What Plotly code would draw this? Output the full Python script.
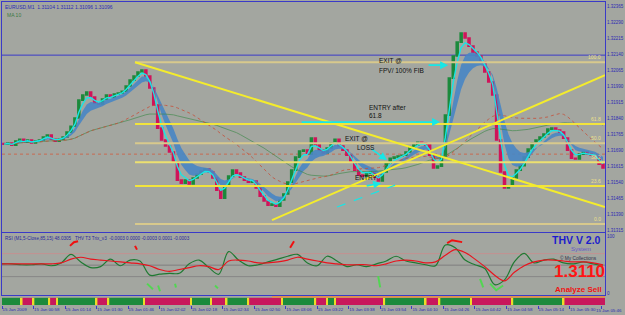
import pandas as pd
import plotly.graph_objects as go

# ---------------- data ----------------
T0 = pd.Timestamp("2009-01-15 00:42")
BAR_MIN = 2
AXIS_END_MIN = 306

close = [
    1.31718, 1.31723, 1.31713, 1.31732, 1.31741, 1.31727, 1.31737, 1.31723, 1.31732, 1.31737,
    1.31751, 1.31760, 1.31741, 1.31732, 1.31741, 1.31751, 1.31774, 1.31802, 1.31840, 1.31924,
    1.31948, 1.31962, 1.31938, 1.31910, 1.31906, 1.31929, 1.31948, 1.31938, 1.31952, 1.31957,
    1.31966, 1.31990, 1.32018, 1.32037, 1.32056, 1.32065, 1.32037, 1.31981, 1.31901, 1.31793,
    1.31737, 1.31709, 1.31681, 1.31634, 1.31549, 1.31535, 1.31549, 1.31531, 1.31559, 1.31577,
    1.31591, 1.31601, 1.31587, 1.31559, 1.31502, 1.31465, 1.31521, 1.31568, 1.31596, 1.31582,
    1.31563, 1.31549, 1.31540, 1.31545, 1.31512, 1.31474, 1.31451, 1.31432, 1.31437, 1.31427,
    1.31456, 1.31484, 1.31540, 1.31596, 1.31657, 1.31685, 1.31690, 1.31671, 1.31746, 1.31713,
    1.31690, 1.31676, 1.31699, 1.31723, 1.31741, 1.31709, 1.31690, 1.31666, 1.31634, 1.31596,
    1.31573, 1.31568, 1.31582, 1.31587, 1.31563, 1.31545, 1.31587, 1.31629, 1.31652, 1.31657,
    1.31662, 1.31666, 1.31681, 1.31704, 1.31713, 1.31727, 1.31723, 1.31713, 1.31666, 1.31606,
    1.31615, 1.31662, 1.31854, 1.32027, 1.32131, 1.32196, 1.32238, 1.32215, 1.32177, 1.32149,
    1.32131, 1.32102, 1.32056, 1.32009, 1.31948, 1.31737, 1.31587, 1.31512, 1.31521, 1.31559,
    1.31596, 1.31617, 1.31657, 1.31695, 1.31723, 1.31737, 1.31751, 1.31765, 1.31788, 1.31793,
    1.31784, 1.31774, 1.31746, 1.31690, 1.31652, 1.31648, 1.31671, 1.31681, 1.31671, 1.31666,
    1.31662, 1.31624, 1.31606,
]
open_first = 1.31720

price_ticks = [1.32365, 1.32290, 1.32215, 1.32140, 1.32065, 1.31990, 1.31915, 1.31840,
               1.31765, 1.31690, 1.31615, 1.31540, 1.31465, 1.31390, 1.31315]
price_range = [1.31306, 1.32384]

fib_levels = [0.0, 23.6, 38.2, 50.0, 61.8, 100.0]
fib_labels = ["0.0", "23.6", "38.2", "50.0", "61.8", "100.0"]
fib_colors = ["#d8c98c", "#f2e43c", "#ece070", "#d8c98c", "#f2e43c", "#d8c98c"]
fib_low, fib_high = 1.31343, 1.32102
fib_start_min = 67.5

# trend lines: (start min, start price, end min, end price)
trend_lines = [(67.5, 1.32102, 306, 1.31423), (137.0, 1.31362, 306, 1.32041)]

# RSI panel, one reading every 5 minutes
rsi_minutes = list(range(0, 306, 5))
rsi_green = [52.3, 52.3, 50.7, 50.7, 52.3, 49.0, 53.9, 68.7, 55.6, 45.7,
             47.4, 60.5, 49.0, 58.9, 57.2, 32.6, 34.2, 35.8, 35.8, 52.3,
             58.9, 45.7, 34.2, 73.7, 58.9, 49.0, 50.7, 55.6, 60.5, 65.5,
             68.7, 53.9, 49.0, 65.5, 57.2, 47.4, 50.7, 47.4, 52.3, 57.2,
             65.5, 57.2, 53.9, 50.7, 49.0, 85.2, 80.3, 58.9, 50.7, 44.1,
             16.1, 24.3, 55.6, 70.4, 53.9, 58.9, 60.5, 53.9, 52.3, 55.6,
             52.3, 49.0]
rsi_red = [52.3, 52.3, 52.3, 52.3, 52.3, 52.3, 53.9, 60.5, 63.8, 60.5,
           58.9, 57.2, 55.6, 53.9, 52.3, 49.0, 42.4, 39.1, 42.4, 45.7,
           49.0, 47.4, 42.4, 57.2, 58.9, 57.2, 53.9, 53.9, 55.6, 58.9,
           63.8, 60.5, 57.2, 53.9, 52.3, 50.7, 50.7, 50.7, 49.0, 52.3,
           57.2, 58.9, 57.2, 53.9, 55.6, 67.1, 77.0, 72.0, 60.5, 47.4,
           32.6, 22.7, 37.5, 49.0, 55.6, 58.9, 58.9, 57.2, 55.6, 55.6,
           53.9, 50.7]
rsi_levels = [70, 50, 30]
rsi_level_colors = ["#c49090", "#7e7e7e", "#868686"]

# THV signal strokes (minutes, value); None separates strokes
sig_red_min = [34.5, 36.5, 38.6, None, 67.5, 68.5, None, 146.2, 148.2, None, 225.9, 228.4, 233.5]
sig_red_val = [83.6, 90.0, 91.8, None, 83.6, 77.0, None, 80.3, 91.8, None, 88.5, 93.4, 90.1]
sig_grn_min = [73.6, 76.6, None, 79.2, 80.2, None, 87.8, 88.3, None, 108.1, 109.6, None,
               190.9, 191.9, None, 242.6, 244.2, None, 247.7, 250.8, 254.3]
sig_grn_val = [17.8, 7.9, None, 14.5, 4.6, None, 17.8, 11.2, None, 14.5, 9.5, None,
               30.9, 11.2, None, 26.0, 11.2, None, 17.8, 6.2, 14.5]

# trend-state strip
strip_bounds = [0, 10, 16, 24, 28, 48, 54, 72, 96, 106, 114, 125, 142, 159, 165, 169,
                194, 215, 222, 238, 259, 285, 306]
strip_state = ["G", "R"] * 11
orange_span = (137, 306)

tick_minutes = list(range(0, 305, 16))
tick_text = ["15 Jan 2009", "15 Jan 00:58", "15 Jan 01:14", "15 Jan 01:30", "15 Jan 01:46",
             "15 Jan 02:02", "15 Jan 02:18", "15 Jan 02:34", "15 Jan 02:50", "15 Jan 03:06",
             "15 Jan 03:22", "15 Jan 03:38", "15 Jan 03:54", "15 Jan 04:10", "15 Jan 04:26",
             "15 Jan 04:42", "15 Jan 04:58", "15 Jan 05:14", "15 Jan 05:30", "15 Jan 05:46"]

# ---------------- styling ----------------
BG = "#a3a6a0"
BLUE = "#3a3ac8"
AXTXT = "#2c2cb4"
FONT = "Liberation Sans"
GREEN_C = "#1c8a3c"
RED_C = "#d0145a"


def tm(m):
    return T0 + pd.Timedelta(minutes=m)


n = len(close)
times = [tm(1 + BAR_MIN * i) for i in range(n)]
opens = [open_first] + close[:-1]
wick = 0.00003
highs = [max(o, c) + wick for o, c in zip(opens, close)]
lows = [min(o, c) - wick for o, c in zip(opens, close)]

s = pd.Series(close)
ema_cyan = s.ewm(span=3, adjust=False).mean()
band_fast = s.ewm(span=5, adjust=False).mean()
band_slow = s.ewm(span=9, adjust=False).mean()
sma_green = s.rolling(40, min_periods=1).mean()
sma_red = s.rolling(30, min_periods=1).mean()

fig = go.Figure()

# blue ribbon
fig.add_trace(go.Scatter(x=times, y=band_fast, mode="lines", line=dict(width=0, color="#4a88c4"),
                         showlegend=False, hoverinfo="skip"))
fig.add_trace(go.Scatter(x=times, y=band_slow, mode="lines", line=dict(width=0, color="#4a88c4"),
                         fill="tonexty", fillcolor="rgba(72,134,196,0.9)", showlegend=False,
                         hoverinfo="skip"))
fig.add_trace(go.Scatter(x=times, y=sma_green, mode="lines", line=dict(width=0.8, color="#3f8a4a"),
                         opacity=0.8, showlegend=False, hoverinfo="skip"))
fig.add_trace(go.Scatter(x=times, y=sma_red, mode="lines",
                         line=dict(width=1, color="#c8503a", dash="dot"),
                         opacity=0.8, showlegend=False, hoverinfo="skip"))
fig.add_trace(go.Candlestick(x=times, open=opens, high=highs, low=lows, close=close,
                             increasing=dict(line=dict(color=GREEN_C, width=1.6), fillcolor=GREEN_C),
                             decreasing=dict(line=dict(color=RED_C, width=1.6), fillcolor=RED_C),
                             whiskerwidth=0, showlegend=False))
fig.add_trace(go.Scatter(x=times, y=ema_cyan, mode="lines", line=dict(width=1.4, color="#18e6e6"),
                         showlegend=False, hoverinfo="skip"))

# RSI panel
rsi_t = [tm(m) for m in rsi_minutes]
fig.add_trace(go.Scatter(x=rsi_t, y=rsi_green, mode="lines", xaxis="x2", yaxis="y2",
                         line=dict(width=1.2, color="#1f7a32", shape="spline"), showlegend=False))
fig.add_trace(go.Scatter(x=rsi_t, y=rsi_red, mode="lines", xaxis="x2", yaxis="y2",
                         line=dict(width=1.2, color="#e8141e", shape="spline"), showlegend=False))
fig.add_trace(go.Scatter(x=[tm(m) if m is not None else None for m in sig_red_min], y=sig_red_val,
                         mode="lines", xaxis="x2", yaxis="y2", connectgaps=False,
                         line=dict(width=2, color="#f01010"), showlegend=False))
fig.add_trace(go.Scatter(x=[tm(m) if m is not None else None for m in sig_grn_min], y=sig_grn_val,
                         mode="lines", xaxis="x2", yaxis="y2", connectgaps=False,
                         line=dict(width=2, color="#52d652"), showlegend=False))

# strip
seg_x, seg_w, seg_c = [], [], []
for a, b, st in zip(strip_bounds[:-1], strip_bounds[1:], strip_state):
    seg_x.append(tm((a + b) / 2))
    seg_w.append((b - a) * 60000)
    seg_c.append(GREEN_C if st == "G" else "#c8185c")
fig.add_trace(go.Bar(x=seg_x, y=[1] * len(seg_x), base=0, width=seg_w, marker=dict(color=seg_c, line=dict(width=0)),
                     xaxis="x3", yaxis="y3", showlegend=False))
sep = strip_bounds[1:-1]
fig.add_trace(go.Bar(x=[tm(m) for m in sep], y=[1] * len(sep), base=0, width=[50000] * len(sep),
                     marker=dict(color="#ecdc28", line=dict(width=0)), xaxis="x3", yaxis="y3",
                     showlegend=False))
fig.add_trace(go.Bar(x=[tm((orange_span[0] + orange_span[1]) / 2)], y=[0.3], base=1,
                     width=[(orange_span[1] - orange_span[0]) * 60000],
                     marker=dict(color="#e0904a", line=dict(width=0)), xaxis="x3", yaxis="y3",
                     showlegend=False))

shapes = []
# horizontal helper lines in main panel
shapes.append(dict(type="line", xref="x domain", x0=0, x1=1, yref="y", y0=1.32135, y1=1.32135,
                   line=dict(color=BLUE, width=1), layer="below"))
shapes.append(dict(type="line", xref="x domain", x0=0, x1=1, yref="y", y0=1.31671, y1=1.31671,
                   line=dict(color="#c86a50", width=1, dash="dot"), layer="below"))
# fib levels
annotations = []
for lv, lab, col in zip(fib_levels, fib_labels, fib_colors):
    p = fib_low + lv / 100 * (fib_high - fib_low)
    shapes.append(dict(type="line", xref="x", yref="y", x0=tm(fib_start_min), x1=tm(AXIS_END_MIN),
                       y0=p, y1=p, line=dict(color=col, width=2)))
    annotations.append(dict(x=tm(AXIS_END_MIN - 0.8), y=p, xref="x", yref="y", text=lab, showarrow=False,
                            xanchor="right", yanchor="bottom", yshift=0,
                            font=dict(size=5, color="#eee08a", family=FONT)))
for (m0, p0, m1, p1) in trend_lines:
    shapes.append(dict(type="line", xref="x", yref="y", x0=tm(m0), y0=p0, x1=tm(m1), y1=p1,
                       line=dict(color="#f4ec2c", width=2)))
# dashed cyan guide
shapes.append(dict(type="line", xref="x", yref="y", x0=tm(170), y0=1.31423, x1=tm(199.5), y1=1.31526,
                   line=dict(color="#18e6e6", width=1.2, dash="dash")))
# RSI levels
for lv, col in zip(rsi_levels, rsi_level_colors):
    shapes.append(dict(type="line", xref="x2 domain", x0=0, x1=1, yref="y2", y0=lv, y1=lv,
                       line=dict(color=col, width=1), layer="below"))

# cyan arrows
arrows = [((215.7, 1.32088), (226.4, 1.32088)),
          ((151.3, 1.31821), (222.3, 1.31821)),
          ((186.8, 1.31699), (195.4, 1.31643)),
          ((184.3, 1.31521), (192.4, 1.31535))]
for (tm0, tp0), (hm, hp) in arrows:
    annotations.append(dict(x=tm(hm), y=hp, ax=tm(tm0), ay=tp0, xref="x", yref="y", axref="x", ayref="y",
                            text="", showarrow=True, arrowhead=2, arrowsize=1, arrowwidth=1.6,
                            arrowcolor="#18e6e6"))

notes = [("EXIT @", 190.4, 1.32112), ("FPV/ 100% FIB", 190.4, 1.32065),
         ("ENTRY after", 185.3, 1.31891), ("61.8", 185.3, 1.31852),
         ("EXIT @", 173.1, 1.31746), ("LOSS", 179.2, 1.31704), ("ENTRY", 178.2, 1.31563)]
for txt, m, p in notes:
    annotations.append(dict(x=tm(m), y=p, xref="x", yref="y", text=txt, showarrow=False,
                            xanchor="left", yanchor="middle", font=dict(size=6.5, color="#101010", family=FONT)))


def px(xp):
    return (xp - 2) / 603


def py(yp):
    return (305 - yp) / 303


annotations += [
    dict(x=px(3), y=py(2), xref="paper", yref="paper", text="EURUSD,M1  1.31104 1.31112 1.31096 1.31096",
         showarrow=False, xanchor="left", yanchor="top", font=dict(size=5, color=AXTXT, family=FONT)),
    dict(x=px(5), y=py(10), xref="paper", yref="paper", text="MA 10", showarrow=False,
         xanchor="left", yanchor="top", font=dict(size=5, color="#3c7a44", family=FONT)),
    dict(x=px(3), y=py(234), xref="paper", yref="paper",
         text="RSI (M1,5-Close,85,15) 48.0305   THV T3 Trix_v3  -0.0003 0.0000 -0.0003 0.0001 -0.0003",
         showarrow=False, xanchor="left", yanchor="top", font=dict(size=4.6, color="#2a2a9a", family=FONT)),
    dict(x=px(603), y=py(239.5), xref="paper", yref="paper", text="<b>THV V 2.0</b>", showarrow=False,
         xanchor="right", yanchor="middle", font=dict(size=10.5, color="#1c1ccc", family=FONT)),
    dict(x=px(581), y=py(249), xref="paper", yref="paper", text="System", showarrow=False,
         xanchor="center", yanchor="middle", font=dict(size=6, color="#6858c8", family=FONT)),
    dict(x=px(578), y=py(257.5), xref="paper", yref="paper", text="© My Collections", showarrow=False,
         xanchor="center", yanchor="middle", font=dict(size=4.8, color="#303048", family=FONT)),
    dict(x=px(607), y=py(271), xref="paper", yref="paper", text="<b>1.3110</b>", showarrow=False,
         xanchor="right", yanchor="middle", font=dict(size=17, color="#ff1414", family=FONT)),
    dict(x=px(604), y=py(289), xref="paper", yref="paper", text="<b>Analyze Sell</b>", showarrow=False,
         xanchor="right", yanchor="middle", font=dict(size=8, color="#f01414", family=FONT)),
    # last time label, kept inside the window
    dict(x=px(624), y=py(310.5), xref="paper", yref="paper", text=tick_text[-1], showarrow=False,
         xanchor="right", yanchor="middle", font=dict(size=4.4, color=AXTXT, family=FONT)),
]

axis_tick_text = tick_text[:-1] + [""]

axis_common = dict(showgrid=False, zeroline=False, showline=True, mirror=True, linecolor=BLUE, linewidth=1,
                   automargin=False)

fig.update_layout(
    width=625, height=315,
    margin=dict(l=2, r=20, t=2, b=10, autoexpand=False),
    paper_bgcolor=BG, plot_bgcolor=BG,
    showlegend=False, barmode="overlay",
    font=dict(family=FONT, size=5, color=AXTXT),
    xaxis=dict(domain=[0, 1], anchor="y", range=[tm(0), tm(AXIS_END_MIN)], showticklabels=False,
               rangeslider=dict(visible=False), ticks="", **axis_common),
    yaxis=dict(domain=[0.2409, 1], anchor="x", range=price_range, side="right",
               tickvals=price_ticks, ticktext=[f"{v:.5f}" for v in price_ticks],
               ticks="", tickfont=dict(size=4.5, color=AXTXT),
               **axis_common),
    xaxis2=dict(domain=[0, 1], anchor="y2", matches="x", showticklabels=False, ticks="", **axis_common),
    yaxis2=dict(domain=[0.0330, 0.2376], anchor="x2", range=[-2, 106], side="right",
                tickvals=[0, 100], ticktext=["0", "100"], ticks="",
                tickfont=dict(size=4.5, color=AXTXT), **axis_common),
    xaxis3=dict(domain=[0, 1], anchor="y3", matches="x", tickvals=[tm(m) for m in tick_minutes],
                ticktext=axis_tick_text, ticks="outside", ticklen=3, tickcolor=BLUE, tickangle=0,
                ticklabelposition="outside right", ticklabeloverflow="allow", automargin=False,
                tickfont=dict(size=4.4, color=AXTXT),
                showgrid=False, zeroline=False, showline=False),
    yaxis3=dict(domain=[0, 0.0297], anchor="x3", range=[0, 1.25], visible=False),
    shapes=shapes,
    annotations=annotations,
)

fig.write_html("out.html")
